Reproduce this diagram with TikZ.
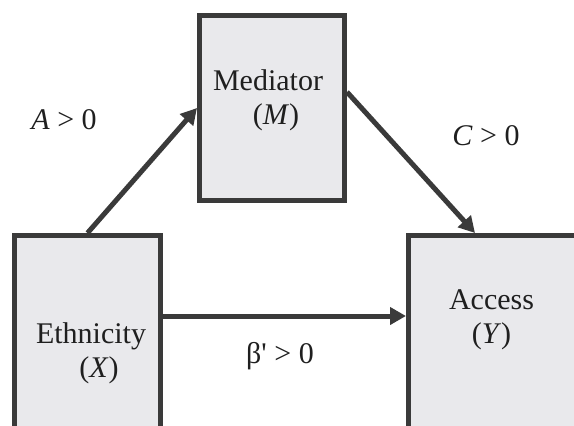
\documentclass[tikz,border=0pt]{standalone}
\usepackage{fontspec}
\setmainfont{Liberation Serif}
\usetikzlibrary{arrows.meta, positioning}
\definecolor{boxline}{HTML}{3A3A3A}
\definecolor{boxfill}{HTML}{E9E9EC}

\begin{document}
\begin{tikzpicture}[x=1pt, y=-1pt,
    var/.style={draw=boxline, fill=boxfill, line width=5pt, inner sep=0pt},
    txt/.style={align=center, inner sep=0pt, text=black!88, font=\fontsize{30}{34}\selectfont},
    link/.style={draw=boxline, line width=5pt, -{Triangle[length=16pt, width=17pt]}}]
    \useasboundingbox (0,0) rectangle (574,426);
    \clip (0,0) rectangle (574,426);

    % Variables
    \node[var, minimum width=145pt, minimum height=185pt] (med) at (272,108) {};
    \node[var, minimum width=146pt, minimum height=205pt] (eth) at (87.5,338) {};
    \node[var, minimum width=185pt, minimum height=205pt] (acc) at (501,338) {};

    \node[txt] (medtxt) at (268,100) {Mediator\\\hspace*{16pt}(\textit{M})};
    \node[txt] (ethtxt) at (91,353) {Ethnicity\\\hspace*{16pt}(\textit{X})};
    \node[txt] (acctxt) at (491.5,320) {Access\\(\textit{Y})};

    % Paths
    \draw[link] (eth.north) -- (med.west);
    \draw[link] ([yshift=16pt]med.east) -- ([xshift=-26pt]acc.north);
    \draw[link] ([yshift=22pt]eth.east) -- ([yshift=22pt]acc.west);

    % Coefficients
    \node[txt] (alab) at (64,120) {\textit{A} > 0};
    \node[txt] (clab) at (486,136) {\textit{C} > 0};
    \node[txt] (blab) at (280,356) {β\textquotesingle{} > 0};
\end{tikzpicture}
\end{document}
